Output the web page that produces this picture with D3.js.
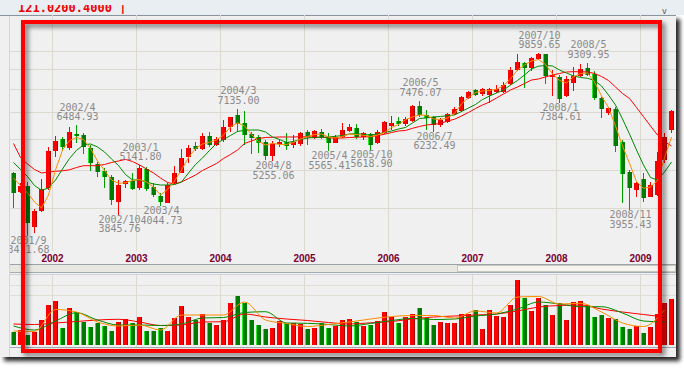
<!DOCTYPE html>
<html>
<head>
<meta charset="utf-8">
<script src="https://cdn.jsdelivr.net/npm/d3@7"></script>
<style>
html, body { margin: 0; padding: 0; background: #fff; overflow: hidden; }
svg { display: block; }
</style>
</head>
<body>
<div id="chart"></div>
<script>
// monthly candles, 2001/7 .. 2009/5
const months = [
  "2001/7","2001/8","2001/9","2001/10","2001/11","2001/12",
  "2002/1","2002/2","2002/3","2002/4","2002/5","2002/6","2002/7","2002/8","2002/9","2002/10","2002/11","2002/12",
  "2003/1","2003/2","2003/3","2003/4","2003/5","2003/6","2003/7","2003/8","2003/9","2003/10","2003/11","2003/12",
  "2004/1","2004/2","2004/3","2004/4","2004/5","2004/6","2004/7","2004/8","2004/9","2004/10","2004/11","2004/12",
  "2005/1","2005/2","2005/3","2005/4","2005/5","2005/6","2005/7","2005/8","2005/9","2005/10","2005/11","2005/12",
  "2006/1","2006/2","2006/3","2006/4","2006/5","2006/6","2006/7","2006/8","2006/9","2006/10","2006/11","2006/12",
  "2007/1","2007/2","2007/3","2007/4","2007/5","2007/6","2007/7","2007/8","2007/9","2007/10","2007/11","2007/12",
  "2008/1","2008/2","2008/3","2008/4","2008/5","2008/6","2008/7","2008/8","2008/9","2008/10","2008/11","2008/12",
  "2009/1","2009/2","2009/3","2009/4","2009/5"
];

const open = [4905,4404,4561,3593,3945,4500,5581,5985,5689,6161,
  6125,5669,5175,4969,4790,4156,4607,4687,4493,5018,
  4520,4297,4132,4625,4919,5399,5746,5637,6090,5780,
  5950,6407,6881,6556,6161,6045,5890,5421,5830,5890,
  5780,5813,6220,6010,6242,6045,5856,6065,6282,6369,
  6065,6161,5834,6185,6454,6657,6529,6657,7251,6881,
  6793,6492,6618,6921,7055,7581,7957,7775,7729,7868,
  7868,8241,8939,9292,9022,9512,9800,8592,8580,7684,
  8273,8639,9058,8734,7581,6946,7139,5890,4948,4449,
  4742,4280,4322,5297,6306];

const high = [4950,4635,4668,3984,4734,5724,6090,6065,6407,6484.93,
  6185,5780,5245,5048,4854,4715,4715,4902,5141.80,5094,
  4625,4365,4625,5116,5637,5780,5890,6185,6242,6065,
  6684,6817,7135.00,7055,6242,6125,5950,5915,5985,6185,
  6125,6242,6306,6306,6355,6185,6125,6556,6529,6529,
  6242,6206,6306,6657,6846,6793,6805,7293,7476.07,7096,
  6846,6750,6975,7222,7683,7912,8021,8034,8034,8192,
  8354,9114,9800,9380,9661,9859.65,9830,8939,8683,8616,
  9114,9250,9309.95,8903,7650,7194,7198,5950,4998,4668,
  4902,4668,5558,6185,7084];

const low = [4000,4373,3411.68,3459,3926,4449,5399,5581,5614,5856,
  5485,4969,4806,4493,4078,3845.76,4493,4449,4449,4431,
  4280,4044.73,4117,4607,4902,5220,5591,5614,5702,5746,
  5890,6242,6242,5780,5485,5526,5297,5255.06,5712,5614,
  5669,5746,5780,5975,5975,5565.41,5834,6010,6242,5975,
  5950,5618.90,5813,6161,6306,6454,6454,6618,6813,6306,
  6232.49,6407,6580,6881,7016,7538,7684,7684,7378,7825,
  7825,8192,8903,8034,8903,9474,8241,7684,7384.61,7626,
  7930,8580,8639,7508,6747,6881,5558,4134,3955.43,4280,
  4156,4270,4297,5195,6195];

const close = [4365,4561,3666,3945,4467,5581,5915,5722,6220,6090,
  5702,5197,4948,4790,4198,4580,4687,4467,5048,4467,
  4322,4156,4580,4902,5346,5689,5637,6090,5780,5975,
  6430,6793,6529,6125,6010,5856,5421,5813,5898,5746,
  5890,6185,6045,6266,6045,5834,6065,6306,6407,6045,
  6185,5780,6242,6618,6556,6529,6711,7251,6881,6750,
  6492,6684,6910,7112,7626,7884,7729,7988,7988,7988,
  8192,8939,9380,9022,9568,9800,8627,8683,7538,8467,
  8639,8976,8683,7581,7139,7152,5746,4882,4493,4625,
  4255,4580,5275,6065,7055];

// moving averages as drawn (orange, green, red)
const maFast = [4770,4567,4373,4150,4008,4322,4998,5614,5933,6037,
  5968,5664,5267,4984,4715,4626,4642,4702,4729,4661,
  4528,4322,4462,4688,4998,5375,5664,5814,5872,5950,
  6125,6418,6573,6455,6143,5899,5780,5838,5797,5797,
  5865,5985,6073,6143,6161,6055,6020,6073,6161,6143,
  6115,6073,6125,6215,6399,6511,6696,6802,6881,6869,
  6723,6704,6763,6942,7336,7619,7843,7911,7934,7990,
  8169,8484,8939,9202,9420,9502,9230,8734,8410,8289,
  8598,8760,8785,8337,7685,7188,6455,5747,5197,4669,
  4493,4528,4702,5360,6055];

const maMid = [5221,5013,4812,4567,4441,4501,4715,5027,5344,5604,
  5780,5814,5714,5550,5328,5130,4868,4715,4715,4661,
  4607,4580,4580,4594,4661,4912,5160,5359,5598,5831,
  5968,6108,6252,6295,6306,6306,6234,6055,5968,5865,
  5899,5968,6020,6038,6045,6055,6080,6108,6161,6179,
  6143,6125,6161,6215,6270,6343,6399,6569,6743,6763,
  6802,6822,6853,6881,7023,7168,7314,7530,7685,7820,
  7957,8192,8410,8683,8992,9139,9176,9149,8939,8785,
  8633,8558,8518,8410,8145,7729,7293,6723,6161,5614,
  5145,4784,4715,4940,5236];

const maSlow = [5830,5375,5175,5013,4912,4940,4961,4975,5004,5071,
  5124,5124,5124,5160,5221,5267,5316,5251,5145,5027,
  4912,4771,4648,4607,4661,4757,4854,4984,5086,5191,
  5344,5469,5614,5831,5916,6003,6038,6045,6055,6055,
  6055,6062,6059,6052,6045,6027,6013,6020,6038,6048,
  6055,6066,6108,6150,6215,6270,6288,6369,6436,6492,
  6519,6550,6646,6712,6842,6982,7147,7293,7422,7597,
  7775,7957,8098,8265,8434,8484,8583,8683,8760,8836,
  8852,8852,8836,8760,8608,8410,8098,7797,7575,7188,
  6814,6455,6125,5899,5747];

const volume = [133,150,100,133,250,400,440,167,367,327,
  233,177,217,190,140,233,257,217,277,140,
  140,167,143,267,390,277,250,310,223,200,
  250,417,490,417,250,200,157,167,243,223,
  217,207,157,167,223,167,190,250,260,233,
  190,200,240,327,283,217,277,310,367,267,
  200,233,223,223,310,310,350,160,350,290,
  277,400,650,467,340,467,400,300,417,250,
  427,440,400,277,300,273,257,177,157,190,
  117,183,310,423,457];

// volume averages, read every third month
const volMaMonths = ["2001/7","2001/10","2002/1","2002/4","2002/7","2002/10","2003/1","2003/4","2003/7","2003/10",
  "2004/1","2004/4","2004/7","2004/10","2005/1","2005/4","2005/7","2005/10","2006/1","2006/4",
  "2006/7","2006/10","2007/1","2007/4","2007/7","2007/10","2008/1","2008/4","2008/7","2008/10",
  "2009/1","2009/4"];
const volMaFast = [140,135,355,330,230,190,200,150,300,300,300,430,250,215,185,205,230,260,285,295,295,270,340,320,480,485,410,417,330,220,185,350];
const volMaMid = [190,150,240,323,250,200,200,195,210,270,275,325,333,220,217,205,190,215,245,265,255,260,290,310,360,430,410,383,383,320,240,230];
const volMaSlow = [210,205,220,235,250,257,230,195,200,230,233,310,280,260,245,225,210,222,235,260,280,290,300,310,340,380,395,400,360,330,305,280];

// labelled highs and lows
const markMonths = ["2002/4","2003/1","2004/3","2006/5","2007/10","2008/5",
  "2001/9","2002/10","2003/4","2004/8","2005/4","2005/10","2006/7","2008/1","2008/11"];
const markValues = [6484.93,5141.80,7135.00,7476.07,9859.65,9309.95,
  3411.68,3845.76,4044.73,5255.06,5565.41,5618.90,6232.49,7384.61,3955.43];
const markTypes = ["H","H","H","H","H","H","L","L","L","L","L","L","L","L","L"];

const yearMonths = ["2002/1","2003/1","2004/1","2005/1","2006/1","2007/1","2008/1","2009/1"];
const yearLabels = ["2002","2003","2004","2005","2006","2007","2008","2009"];
const priceTicks = [4000,5000,6000,7000,8000,9000,10000];
const volTicks = [500, 600];

const width = 684;
const height = 372;
const pane = { left: 10, right: 676, top: 15, bottom: 264 };
const volPane = { top: 275, bottom: 347 };

const data = months.map((m, i) => ({
  m, o: open[i], h: high[i], l: low[i], c: close[i], v: volume[i]
}));

const svg = d3.select('#chart')
  .append('svg')
  .attr('width', width)
  .attr('height', height);

const defs = svg.append('defs');
defs.append('filter').attr('id', 'panelShadow')
  .attr('x', '-5%').attr('y', '-5%').attr('width', '115%').attr('height', '115%')
  .append('feDropShadow')
    .attr('dx', 4).attr('dy', 4).attr('stdDeviation', 2)
    .attr('flood-color', '#000').attr('flood-opacity', 0.85);
defs.append('filter').attr('id', 'boxShadow')
  .attr('x', '-5%').attr('y', '-5%').attr('width', '115%').attr('height', '115%')
  .append('feDropShadow')
    .attr('dx', 3).attr('dy', 3).attr('stdDeviation', 2.5)
    .attr('flood-color', '#000').attr('flood-opacity', 0.55);
defs.append('clipPath').attr('id', 'paneClip')
  .append('rect').attr('x', pane.left).attr('y', pane.top)
  .attr('width', pane.right - pane.left).attr('height', volPane.bottom - pane.top);
defs.append('clipPath').attr('id', 'topClip')
  .append('rect').attr('x', 0).attr('y', 5).attr('width', width).attr('height', 9);

const x = d3.scaleBand()
  .domain(months)
  .range([10, 675])
  .paddingInner(2 / 7)
  .paddingOuter(1 / 7);
const cx = m => x(m) + x.bandwidth() / 2;

const y = d3.scaleLog()
  .domain([4000, 10000])
  .range([208.3, 50.7]);

const yv = d3.scaleLinear()
  .domain([0, 700])
  .range([volPane.bottom - 2, volPane.bottom - 72]);

// page + title strip
svg.append('rect').attr('width', width).attr('height', height).attr('fill', '#ffffff');
svg.append('rect').attr('x', 0).attr('y', 0).attr('width', width).attr('height', 15).attr('fill', '#e9eef3');
svg.append('text')
  .attr('clip-path', 'url(#topClip)')
  .attr('x', 18).attr('y', 12)
  .attr('font-family', 'DejaVu Sans Mono').attr('font-size', 12).attr('font-weight', 'bold')
  .attr('fill', '#ee0000')
  .text('121.0200.4000 |');

// panel
svg.append('rect')
  .attr('x', 0).attr('y', pane.top)
  .attr('width', pane.right).attr('height', 342)
  .attr('fill', '#f0f0f0')
  .attr('filter', 'url(#panelShadow)');
svg.append('line')
  .attr('x1', 0).attr('x2', pane.right).attr('y1', 15.5).attr('y2', 15.5)
  .attr('stroke', '#8a949e');
svg.append('line')
  .attr('x1', 9.5).attr('x2', 9.5).attr('y1', 16).attr('y2', 357)
  .attr('stroke', '#d6d6d6');
svg.append('text')
  .attr('x', 662).attr('y', 14)
  .attr('font-family', 'DejaVu Sans').attr('font-size', 8).attr('fill', '#555')
  .text('v');

const g = svg.append('g').attr('clip-path', 'url(#paneClip)');

// grid
g.append('g')
  .selectAll('line')
  .data(priceTicks)
  .join('line')
    .attr('x1', pane.left).attr('x2', pane.right)
    .attr('y1', d => Math.round(y(d)) + 0.5).attr('y2', d => Math.round(y(d)) + 0.5)
    .attr('stroke', '#dcd9d0');

g.append('g')
  .selectAll('line')
  .data(yearMonths)
  .join('line')
    .attr('x1', d => x(d) - 0.5).attr('x2', d => x(d) - 0.5)
    .attr('y1', pane.top).attr('y2', 251)
    .attr('stroke', '#dcd9d0');

g.append('g')
  .selectAll('line')
  .data(yearMonths)
  .join('line')
    .attr('x1', d => x(d) - 0.5).attr('x2', d => x(d) - 0.5)
    .attr('y1', volPane.top).attr('y2', volPane.bottom)
    .attr('stroke', '#dcd9d0');

g.append('g')
  .selectAll('line')
  .data(volTicks)
  .join('line')
    .attr('x1', pane.left).attr('x2', pane.right)
    .attr('y1', d => Math.round(yv(d)) + 0.5).attr('y2', d => Math.round(yv(d)) + 0.5)
    .attr('stroke', '#e0ddd5');

// x axis year labels
g.append('g')
  .selectAll('text')
  .data(yearMonths)
  .join('text')
    .attr('x', d => x(d) - 0.5)
    .attr('y', 262)
    .attr('text-anchor', 'middle')
    .attr('font-family', 'Liberation Sans').attr('font-size', 10).attr('font-weight', 'bold')
    .attr('fill', '#7a0030')
    .text((d, i) => yearLabels[i]);

// separator band / scroll bar
svg.append('line').attr('x1', pane.left).attr('x2', pane.right).attr('y1', 264.5).attr('y2', 264.5).attr('stroke', '#9aa2aa');
svg.append('rect').attr('x', pane.left).attr('y', 265).attr('width', pane.right - pane.left).attr('height', 7).attr('fill', '#e9e8e0');
svg.append('rect').attr('x', 457.5).attr('y', 265.5).attr('width', 218).attr('height', 6).attr('fill', '#f5f4ef').attr('stroke', '#c9c7bd');
svg.append('line').attr('x1', pane.left).attr('x2', pane.right).attr('y1', 272.5).attr('y2', 272.5).attr('stroke', '#a4acb4');
svg.append('line').attr('x1', pane.left).attr('x2', pane.right).attr('y1', 274.5).attr('y2', 274.5).attr('stroke', '#d0d4d8');
svg.append('line').attr('x1', pane.left).attr('x2', pane.right).attr('y1', 347.5).attr('y2', 347.5).attr('stroke', '#a4acb4');

// candles
const up = d => d.c >= d.o;
const candles = g.append('g')
  .selectAll('g')
  .data(data)
  .join('g');

candles.append('line')
  .attr('x1', d => cx(d.m)).attr('x2', d => cx(d.m))
  .attr('y1', d => Math.round(y(d.h))).attr('y2', d => Math.round(y(d.l)))
  .attr('stroke', d => up(d) ? '#ff0000' : '#00a000');

candles.append('rect')
  .attr('x', d => x(d.m))
  .attr('y', d => Math.round(y(Math.max(d.o, d.c))))
  .attr('width', x.bandwidth())
  .attr('height', d => Math.max(2, Math.round(y(Math.min(d.o, d.c))) - Math.round(y(Math.max(d.o, d.c)))))
  .attr('fill', d => up(d) ? '#ff0000' : '#007a00');

candles.append('rect')
  .attr('x', d => up(d) ? x(d.m) + x.bandwidth() - 1 : x(d.m))
  .attr('y', d => Math.round(y(Math.max(d.o, d.c))))
  .attr('width', 1)
  .attr('height', d => Math.max(2, Math.round(y(Math.min(d.o, d.c))) - Math.round(y(Math.max(d.o, d.c)))))
  .attr('fill', d => up(d) ? '#a80000' : '#22ee22');

// moving averages
const maLine = arr => d3.line()
  .x((d, i) => cx(months[i]))
  .y(d => y(d))(arr);

g.append('path').attr('d', maLine(maSlow)).attr('fill', 'none').attr('stroke', '#ff0000').attr('stroke-width', 1);
g.append('path').attr('d', maLine(maMid)).attr('fill', 'none').attr('stroke', '#008a00').attr('stroke-width', 1);
g.append('path').attr('d', maLine(maFast)).attr('fill', 'none').attr('stroke', '#ff8c00').attr('stroke-width', 1);

// high / low marks: date over value, one text block each
const marks = g.append('g')
  .attr('font-family', 'DejaVu Sans Mono')
  .attr('font-size', 10)
  .attr('fill', '#8a8a8a')
  .attr('text-anchor', 'middle')
  .selectAll('text')
  .data(markMonths)
  .join('text')
    .attr('y', (d, i) => markTypes[i] === 'H' ? y(markValues[i]) - 14.5 : y(markValues[i]) + 8);

marks.append('tspan')
  .attr('x', d => cx(d) + 1)
  .text(d => d);
marks.append('tspan')
  .attr('x', d => cx(d) + 1)
  .attr('dy', 9.3)
  .text((d, i) => markValues[i].toFixed(2));

// volume bars
const vbars = g.append('g')
  .selectAll('g')
  .data(data)
  .join('g');

vbars.append('rect')
  .attr('x', d => x(d.m))
  .attr('y', d => Math.round(yv(d.v)))
  .attr('width', x.bandwidth())
  .attr('height', d => yv(0) - Math.round(yv(d.v)))
  .attr('fill', d => up(d) ? '#ff0000' : '#007a00');
vbars.append('rect')
  .attr('x', d => up(d) ? x(d.m) + x.bandwidth() - 1 : x(d.m))
  .attr('y', d => Math.round(yv(d.v)))
  .attr('width', 1)
  .attr('height', d => yv(0) - Math.round(yv(d.v)))
  .attr('fill', d => up(d) ? '#a80000' : '#22ee22');

const volLine = arr => d3.line()
  .x((d, i) => cx(volMaMonths[i]))
  .y(d => yv(d))
  .curve(d3.curveMonotoneX)(arr);

g.append('path').attr('d', volLine(volMaSlow)).attr('fill', 'none').attr('stroke', '#ff0000');
g.append('path').attr('d', volLine(volMaMid)).attr('fill', 'none').attr('stroke', '#008a00');
g.append('path').attr('d', volLine(volMaFast)).attr('fill', 'none').attr('stroke', '#ff8c00');

// highlight box
svg.append('rect')
  .attr('x', 23).attr('y', 22)
  .attr('width', 637).attr('height', 329)
  .attr('fill', 'none')
  .attr('stroke', '#ff0000')
  .attr('stroke-width', 4)
  .attr('filter', 'url(#boxShadow)');
</script>
</body>
</html>
